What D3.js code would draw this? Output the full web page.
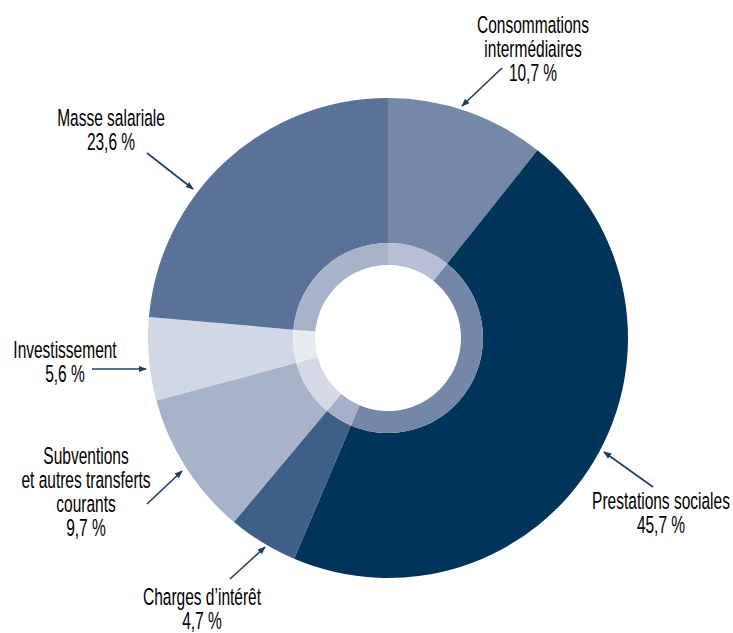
<!DOCTYPE html>
<html><head><meta charset="utf-8">
<script src="https://cdn.jsdelivr.net/npm/d3@7"></script>
<style>
html,body{margin:0;padding:0;background:#fff;}
text{font-family:"Liberation Sans",Arial,sans-serif;fill:#000;}
</style></head>
<body>
<svg id="chart" width="733" height="633"></svg>
<script>
const categories = ["Consommations intermédiaires","Prestations sociales","Charges d’intérêt","Subventions et autres transferts courants","Investissement","Masse salariale"];
const values = [10.7, 45.7, 4.7, 9.7, 5.6, 23.6];
const outerColors = ["#7588a8","#00345a","#3e5f88","#a8b3ca","#d1d7e4","#5a7298"];
const innerColors = ["#b6bfd4","#7587a8","#a4b0c8","#d4d9e5","#e8ebf2","#a8b3ca"];
const labelLines = [
  ["Consommations","intermédiaires","10,7 %"],
  ["Prestations sociales","45,7 %"],
  ["Charges d’intérêt","4,7 %"],
  ["Subventions","et autres transferts","courants","9,7 %"],
  ["Investissement","5,6 %"],
  ["Masse salariale","23,6 %"]
];
// label anchor (center x, first baseline y) and arrow from/to
const labelPos = [[533,33],[661,509],[202,605],[86,464],[65,358],[111,126]];
const arrows = [[[502,68],[462,106]],[[653,487],[604,452]],[[230,579],[265,547]],[[147,504],[182,471]],[[92,369],[146,369]],[[147,153],[193,189]]];

const svg = d3.select("#chart");
const cx = 388, cy = 338;
const g = svg.append("g").attr("transform",`translate(${cx},${cy})`);
const pie = d3.pie().sort(null).value(d=>d);
const arcsData = pie(values);
const outerArc = d3.arc().innerRadius(95).outerRadius(240);
const innerArc = d3.arc().innerRadius(73).outerRadius(95);
g.selectAll("path.outer").data(arcsData).enter().append("path")
  .attr("class","outer").attr("d",outerArc).attr("fill",(d,i)=>outerColors[i]);
g.selectAll("path.inner").data(arcsData).enter().append("path")
  .attr("class","inner").attr("d",innerArc).attr("fill",(d,i)=>innerColors[i]);

const defs = svg.append("defs");
defs.append("marker").attr("id","arr").attr("viewBox","0 0 10 10").attr("refX",9).attr("refY",5)
  .attr("markerWidth",5).attr("markerHeight",5).attr("orient","auto")
  .append("path").attr("d","M0,1 L10,5 L0,9 Z").attr("fill","#1d3e64");

arrows.forEach(a=>{
  svg.append("line").attr("x1",a[0][0]).attr("y1",a[0][1]).attr("x2",a[1][0]).attr("y2",a[1][1])
    .attr("stroke","#1d3e64").attr("stroke-width",1.6).attr("marker-end","url(#arr)");
});

const fs = 23.5, lh = 24, sx = 0.66;
labelLines.forEach((lines,i)=>{
  const lg = svg.append("g").attr("transform",`translate(${labelPos[i][0]},${labelPos[i][1]}) scale(${sx},1)`);
  lines.forEach((t,j)=>{
    lg.append("text").attr("x",0).attr("y",j*lh).attr("text-anchor","middle")
      .attr("font-size",fs).text(t);
  });
});
</script>
</body></html>
